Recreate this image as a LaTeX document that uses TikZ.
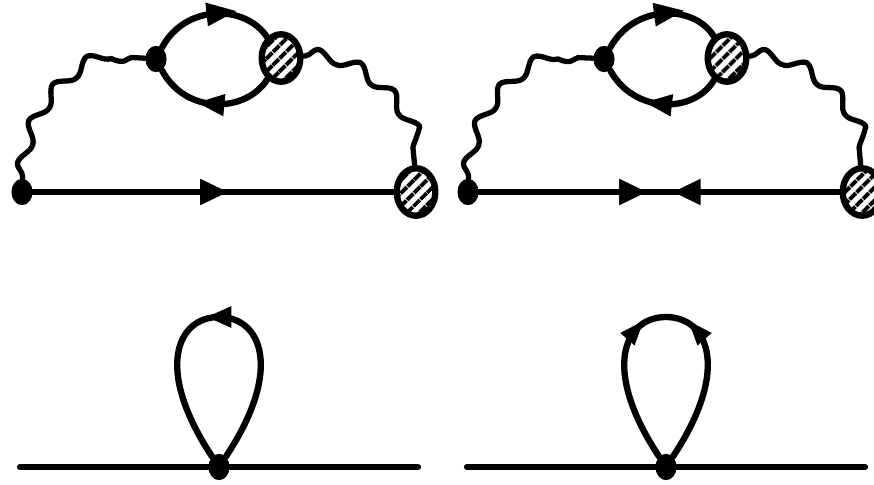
\documentclass[tikz,border=0pt]{standalone}
\usetikzlibrary{arrows.meta,decorations.pathmorphing,decorations.markings,patterns.meta,shapes.geometric}
\tikzset{
	fermion/.style={line width=3.6pt},
	photon/.style={line width=3pt,decorate,decoration={snake,amplitude=3.4pt,segment length=24pt,pre length=1pt,post length=1pt}},
	vertex/.style={ellipse,fill=black,inner sep=0pt,minimum width=12pt,minimum height=15pt},
	blob/.style={ellipse,draw,line width=3.6pt,inner sep=0pt,minimum width=22pt,minimum height=27pt,pattern={Lines[angle=45,distance=5.4pt,line width=2.4pt]}},
	arrowat/.style={postaction={decorate},decoration={markings,mark=at position #1 with {\arrow{Triangle[length=16pt,width=14pt]}}}},
	tophead/.style={postaction={decorate},decoration={markings,mark=at position #1 with {\fill (14pt,0pt) -- (-3pt,6.8pt) -- (-3pt,-6.8pt) -- cycle;}}},
	lowhead/.style={postaction={decorate},decoration={markings,mark=at position #1 with {\fill (-8.5pt,0pt) -- (6.8pt,6.4pt) -- (6.8pt,-6.4pt) -- cycle;}}},
	loophead/.style={postaction={decorate},decoration={markings,mark=at position #1 with {\fill (6.8pt,0pt) -- (-7pt,6.2pt) -- (-7pt,-6.2pt) -- cycle;}}},
	sidehead/.style={postaction={decorate},decoration={markings,mark=at position #1 with {\fill (7pt,0pt) -- (-7pt,5.4pt) -- (-7pt,-5.4pt) -- cycle;}}},
}
\begin{document}
\begin{tikzpicture}[x=0.02cm,y=0.02cm,line cap=round,line join=round]
	\useasboundingbox (0,0) rectangle (874,484);
	% top left
	\node[vertex] (la) at (22,292) {};
	\node[blob] (lb) at (416,292) {};
	\node[vertex] (lc) at (156,425) {};
	\node[blob] (ld) at (281,426) {};
	\draw[fermion,arrowat=0.54] (la) -- (lb);
	\draw[photon] (la) .. controls (25,370) and (85,430) .. (lc);
	\draw[photon] (ld) .. controls (350,432) and (412,370) .. (lb);
	\draw[fermion,tophead=0.5] (lc) .. controls (185,480) and (245,480) .. (ld);
	\draw[fermion,lowhead=0.5] (lc) .. controls (185,370) and (245,370) .. (ld);
	% top right
	\node[vertex] (ra) at (468,292) {};
	\node[blob] (rb) at (862,292) {};
	\node[vertex] (rc) at (604,425) {};
	\node[blob] (rd) at (727,426) {};
	\coordinate (re) at (660,292);
	\draw[fermion,arrowat=0.93] (ra) -- (re);
	\draw[fermion,arrowat=0.93] (rb) -- (re);
	\draw[photon] (ra) .. controls (471,370) and (533,430) .. (rc);
	\draw[photon] (rd) .. controls (796,432) and (858,370) .. (rb);
	\draw[fermion,tophead=0.5] (rc) .. controls (634,480) and (694,480) .. (rd);
	\draw[fermion,lowhead=0.5] (rc) .. controls (634,370) and (694,370) .. (rd);
	% bottom left
	\coordinate (sa) at (20,17);
	\coordinate (sb) at (418,17);
	\node[vertex] (sc) at (219,17) {};
	\draw[fermion] (sa) -- (sb);
	\draw[fermion,loophead=0.5] (sc) .. controls (284,115) and (261,167) .. (219,167)
		.. controls (177,167) and (154,115) .. (sc);
	% bottom right
	\coordinate (ta) at (467,17);
	\coordinate (tb) at (865,17);
	\node[vertex] (tc) at (666,17) {};
	\coordinate (td) at (666,167);
	\draw[fermion] (ta) -- (tb);
	\draw[fermion,sidehead=0.8] (tc) .. controls (731,115) and (708,167) .. (td);
	\draw[fermion,sidehead=0.8] (tc) .. controls (601,115) and (624,167) .. (td);
\end{tikzpicture}
\end{document}
